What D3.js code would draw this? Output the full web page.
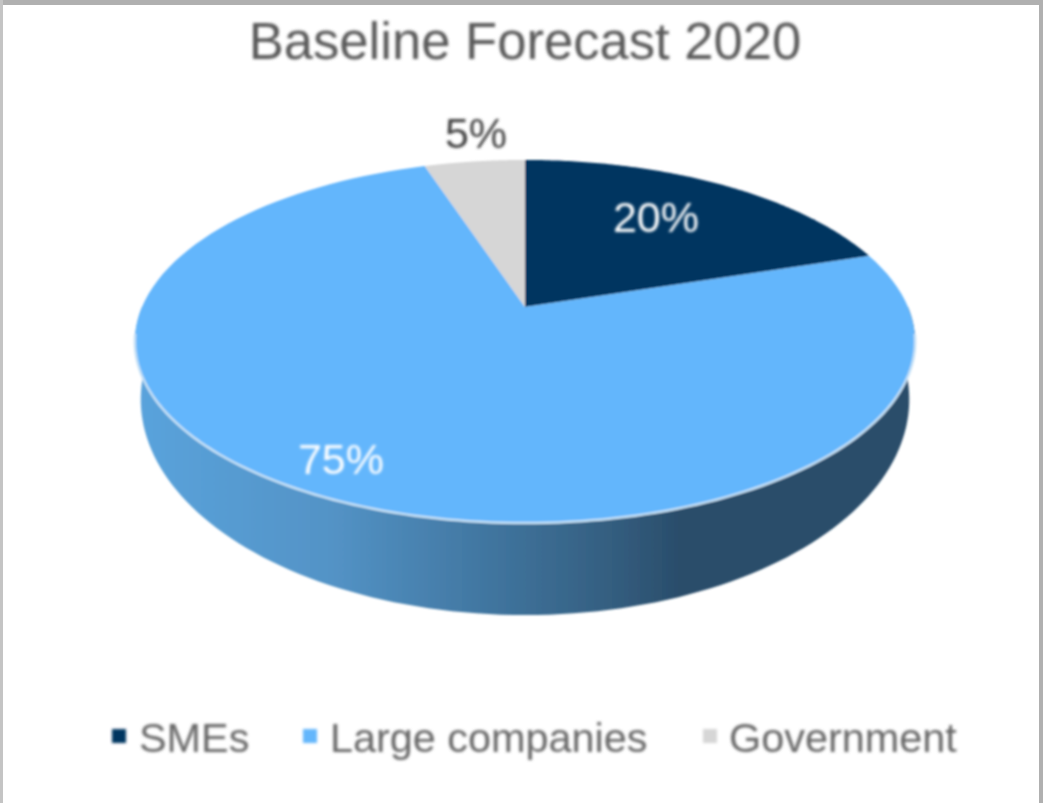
<!DOCTYPE html>
<html>
<head>
<meta charset="utf-8">
<script src="https://cdn.jsdelivr.net/npm/d3@7"></script>
<style>
html, body { margin: 0; padding: 0; background: #fff; }
svg { display: block; }
text { font-family: 'Liberation Sans', Arial, sans-serif; }
</style>
</head>
<body>
<div id="chart"></div>
<script>
const categories = ["SMEs", "Large companies", "Government"];
const values = [20, 75, 5];
const valueLabels = ["20%", "75%", "5%"];
const colors = ["#003561", "#64b6fc", "#d6d6d6"];
const titleText = "Baseline Forecast 2020";

const width = 1043, height = 803;

const svg = d3.select("#chart").append("svg").attr("width", width).attr("height", height);
const defs = svg.append("defs");

// the source is a soft upscaled screenshot
defs.append("filter").attr("id", "soft").attr("x", "-5%").attr("y", "-5%").attr("width", "110%").attr("height", "110%")
    .append("feGaussianBlur").attr("stdDeviation", 1.3);
defs.append("filter").attr("id", "softText").attr("x", "-10%").attr("y", "-20%").attr("width", "120%").attr("height", "140%")
    .append("feGaussianBlur").attr("stdDeviation", 1.5);

const wallGrad = defs.append("linearGradient").attr("id", "wall")
    .attr("gradientUnits", "userSpaceOnUse").attr("x1", 138).attr("x2", 912).attr("y1", 0).attr("y2", 0);
[[0, "#5aa3dc"], [0.25, "#5393c6"], [0.47, "#3f739c"], [0.6, "#356082"], [0.7, "#2a4d6b"], [1, "#2a4d6b"]]
    .forEach(s => wallGrad.append("stop").attr("offset", s[0]).attr("stop-color", s[1]));

// frame of the screenshot
svg.append("rect").attr("x", 0).attr("y", 0).attr("width", width).attr("height", 5).attr("fill", "#b0b0b0");
svg.append("rect").attr("x", 0).attr("y", 0).attr("width", 3).attr("height", height).attr("fill", "#c4c4c4");
svg.append("rect").attr("x", width - 4).attr("y", 0).attr("width", 4).attr("height", height).attr("fill", "#b0b0b0");

// perspective view of the pie disc
const cx = 525, apexY = 307, radiusX = 383, radiusY = 175, tilt = 0.19;
function project(angle) {
    const u = Math.sin(angle), v = Math.cos(angle), w = 1 + tilt * v;
    return [cx + radiusX * u / w, apexY - radiusY * v / w];
}
// lower rim of the wall, a bit narrower and rounder than the top rim
const wallX = d3.scaleLinear().domain([cx, cx + 100]).range([cx, cx + 98.5]);
const wallY = d3.scaleLinear().domain([342, 523]).range([400, 615]);

const arcs = d3.pie().sort(null).value(d => d)(values);
const line = d3.line();

function arcPoints(a0, a1) {
    return d3.range(0, 121).map(i => project(a0 + (a1 - a0) * i / 120));
}
function wedgePath(d) {
    return line([[cx, apexY], ...arcPoints(d.startAngle, d.endAngle)]) + "Z";
}

const pieG = svg.append("g").attr("filter", "url(#soft)");

// side wall, only the large slice faces the viewer
const sideA0 = Math.max(arcs[1].startAngle, Math.PI * 0.5), sideA1 = Math.min(arcs[1].endAngle, Math.PI * 1.5);
const lowerRim = arcPoints(sideA1, sideA0).map(p => [wallX(p[0]), wallY(p[1])]);
pieG.append("path")
    .attr("d", line([...arcPoints(sideA0, sideA1), ...lowerRim]) + "Z")
    .attr("fill", "url(#wall)");

// top face
pieG.selectAll("path.slice").data(arcs).join("path")
    .attr("class", "slice")
    .attr("d", wedgePath)
    .attr("fill", (d, i) => colors[i]);

// pale rim on the front of the disc
pieG.append("path")
    .attr("d", line(arcPoints(sideA0 + 0.15, sideA1 - 0.15)))
    .attr("fill", "none")
    .attr("stroke", "#c4e0f6")
    .attr("stroke-width", 2.5);

const textG = svg.append("g").attr("filter", "url(#softText)");

textG.append("text")
    .attr("x", 525).attr("y", 59)
    .attr("text-anchor", "middle")
    .attr("font-size", 52.6)
    .attr("fill", "#595959")
    .text(titleText);

const labelPos = [[656, 232], [341, 474], [476, 148]];
const labelColor = ["#ffffff", "#ffffff", "#404040"];
textG.selectAll("text.value").data(valueLabels).join("text")
    .attr("class", "value")
    .attr("x", (d, i) => labelPos[i][0])
    .attr("y", (d, i) => labelPos[i][1])
    .attr("text-anchor", "middle")
    .attr("font-size", 43)
    .attr("fill", (d, i) => labelColor[i])
    .text(d => d);

// legend
const legendX = [[112, 139], [303, 330], [703, 729]];
const legendG = svg.append("g").attr("filter", "url(#softText)");
legendG.selectAll("rect").data(categories).join("rect")
    .attr("x", (d, i) => legendX[i][0]).attr("y", 729)
    .attr("width", 14).attr("height", 14)
    .attr("fill", (d, i) => colors[i]);
legendG.selectAll("text").data(categories).join("text")
    .attr("x", (d, i) => legendX[i][1]).attr("y", 752)
    .attr("font-size", 41.4)
    .attr("fill", "#666666")
    .text(d => d);
</script>
</body>
</html>
